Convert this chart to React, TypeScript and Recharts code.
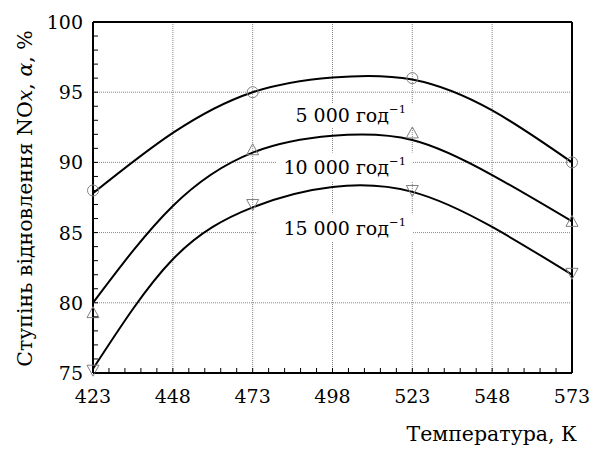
import {
  CartesianGrid,
  ComposedChart,
  Label,
  Line,
  ReferenceArea,
  ReferenceLine,
  Scatter,
  XAxis,
  YAxis
} from 'recharts'

// temperatures, K
const curveTemps = [423, 448, 473, 498, 523, 548, 573]
const measuredTemps = [423, 473, 523, 573]

// fitted curves
const curve5000 = [87.8, 92.1, 95.0, 96.05, 95.9, 93.7, 90.0]
const curve10000 = [80.0, 86.9, 90.7, 91.9, 91.6, 89.1, 85.8]
const curve15000 = [75.3, 83.1, 86.8, 88.25, 87.9, 85.4, 82.0]

// measured points
const points5000 = [88, 95, 96, 90]
const points10000 = [79.3, 90.9, 92.1, 85.8]
const points15000 = [75.2, 87.0, 88.0, 82.1]

const xMajor = [423, 448, 473, 498, 523, 548, 573]
const yMajor = [75, 80, 85, 90, 95, 100]
const xAll: number[] = []
for (let t = 423; t <= 573; t += 5) xAll.push(t)
const yAll: number[] = []
for (let v = 75; v <= 100; v += 1) yAll.push(v)

const seriesLabels = ['5 000', '10 000', '15 000']
// label boxes [x1, x2, y1, y2] in data units
const labelBoxes = [
  [484.5, 523.2, 92.5, 94.2],
  [480.6, 523.2, 88.6, 90.7],
  [474.4, 523.2, 84.4, 86.3]
]

const FONT = '"DejaVu Serif", "Times New Roman", Times, "Liberation Serif", "Noto Serif", serif'
const txt = { fontFamily: FONT, fill: '#000' }
const MARK = '#808080'

const toPts = (xs: number[], ys: number[]) => xs.map((x, i) => ({ x, y: ys[i] }))

const XTick = ({ x, y, payload }: any) => {
  const major = xMajor.includes(payload.value)
  return (
    <g>
      <line x1={x} x2={x} y1={y} y2={y - 5} stroke="#000" strokeWidth={1} />
      {major && (
        <text x={x} y={y + 30} textAnchor="middle" fontSize={19} style={txt}>
          {payload.value}
        </text>
      )}
    </g>
  )
}

const YTick = ({ x, y, payload }: any) => {
  const major = yMajor.includes(payload.value)
  return (
    <g>
      <line x1={x} x2={x + 5} y1={y} y2={y} stroke="#000" strokeWidth={1} />
      {major && (
        <text x={x - 10} y={y + 7} textAnchor="end" fontSize={19} style={txt}>
          {payload.value}
        </text>
      )}
    </g>
  )
}

const YTitle = ({ viewBox }: any) => {
  const cx = viewBox.x + 25
  const cy = viewBox.y + viewBox.height / 2 + 1
  return (
    <text
      x={cx}
      y={cy}
      transform={`rotate(-90 ${cx} ${cy})`}
      textAnchor="middle"
      dominantBaseline="central"
      fontSize={20.5}
      style={txt}
    >
      Ступінь відновлення NO<tspan fontStyle="italic">x</tspan>, <tspan fontStyle="italic">α</tspan>, %
    </text>
  )
}

const XTitle = ({ viewBox }: any) => (
  <text
    x={viewBox.x + viewBox.width + 5}
    y={viewBox.y + 68}
    textAnchor="end"
    fontSize={20.5}
    style={txt}
  >
    Температура, К
  </text>
)

const SeriesLabel = (text: string) => ({ viewBox }: any) => {
  const ex = viewBox.x + viewBox.width - 7
  const cy = viewBox.y + viewBox.height / 2
  return (
    <text x={ex} y={cy + 7} textAnchor="end" fontSize={19} style={txt}>
      {text} год<tspan dy={-9} fontSize={11.5}>−1</tspan>
    </text>
  )
}

const Circle = ({ cx, cy }: any) => (
  <circle cx={cx} cy={cy} r={5.5} fill="none" stroke={MARK} strokeWidth={1} />
)
const TriUp = ({ cx, cy }: any) => (
  <polygon
    points={`${cx},${cy - 6} ${cx - 6},${cy + 5} ${cx + 6},${cy + 5}`}
    fill="none"
    stroke={MARK}
    strokeWidth={1}
  />
)
const TriDown = ({ cx, cy }: any) => (
  <polygon
    points={`${cx},${cy + 6} ${cx - 6},${cy - 5} ${cx + 6},${cy - 5}`}
    fill="none"
    stroke={MARK}
    strokeWidth={1}
  />
)

export default function App() {
  return (
    <div style={{ position: 'absolute', left: 0, top: 0, background: '#fff' }}>
      <ComposedChart width={607} height={450} margin={{ top: 22, right: 35, bottom: 47, left: 0 }}>
        <CartesianGrid
          stroke="#888"
          strokeWidth={1}
          strokeDasharray="1 1"
          horizontalValues={yMajor}
          verticalValues={xMajor}
        />
        <XAxis
          type="number"
          dataKey="x"
          domain={[423, 573]}
          ticks={xAll}
          interval={0}
          height={30}
          tickSize={0}
          tickMargin={0}
          tick={<XTick />}
          axisLine={{ stroke: '#000', strokeWidth: 2 }}
        >
          <Label content={<XTitle />} />
        </XAxis>
        <YAxis
          type="number"
          domain={[75, 100]}
          ticks={yAll}
          interval={0}
          width={93}
          tickSize={0}
          tickMargin={0}
          tick={<YTick />}
          axisLine={{ stroke: '#000', strokeWidth: 2 }}
        >
          <Label content={<YTitle />} />
        </YAxis>
        {labelBoxes.map((b, i) => (
          <ReferenceArea
            key={i}
            x1={b[0]}
            x2={b[1]}
            y1={b[2]}
            y2={b[3]}
            fill="#fff"
            fillOpacity={1}
            stroke="none"
            label={SeriesLabel(seriesLabels[i])}
          />
        ))}
        <ReferenceLine y={100} stroke="#000" strokeWidth={2} />
        <ReferenceLine x={573} stroke="#000" strokeWidth={2} />
        <Line data={toPts(curveTemps, curve5000)} dataKey="y" type="natural" stroke="#000" strokeWidth={2} dot={false} isAnimationActive={false} />
        <Line data={toPts(curveTemps, curve10000)} dataKey="y" type="natural" stroke="#000" strokeWidth={2} dot={false} isAnimationActive={false} />
        <Line data={toPts(curveTemps, curve15000)} dataKey="y" type="natural" stroke="#000" strokeWidth={2} dot={false} isAnimationActive={false} />
        <Scatter data={toPts(measuredTemps, points5000)} dataKey="y" shape={<Circle />} isAnimationActive={false} />
        <Scatter data={toPts(measuredTemps, points10000)} dataKey="y" shape={<TriUp />} isAnimationActive={false} />
        <Scatter data={toPts(measuredTemps, points15000)} dataKey="y" shape={<TriDown />} isAnimationActive={false} />
      </ComposedChart>
    </div>
  )
}
